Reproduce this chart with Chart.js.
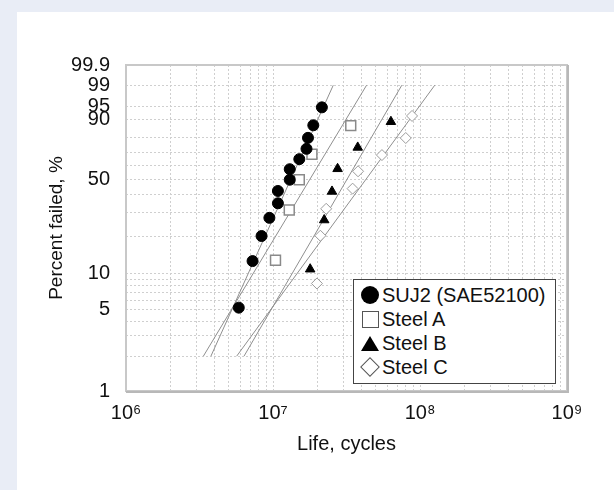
<!DOCTYPE html>
<html>
<head>
<meta charset="utf-8">
<script src="https://cdn.jsdelivr.net/npm/chart.js@4.4.1/dist/chart.umd.min.js"></script>
<style>
  html, body { margin: 0; padding: 0; }
  body { width: 614px; height: 490px; background: #e9edf6; position: relative; overflow: hidden;
         font-family: "Liberation Sans", Arial, Helvetica, sans-serif; }
  #panel { position: absolute; left: 17px; top: 12px; width: 597px; height: 478px; background: #fff; }
  #chart { position: absolute; left: 0; top: 0; }
  #legend { position: absolute; left: 336px; top: 267px; width: 201px; height: 100px;
            border: 1px solid #444; background: #fff; padding-top: 3px; box-sizing: content-box; }
  .row { display: flex; align-items: center; height: 24px; font-size: 20px; color: #111; }
  .sym { width: 20px; margin-left: 6px; margin-right: 2px; display: flex; justify-content: center; align-items: center; }
  .circle { width: 18px; height: 18px; border-radius: 50%; background: #000; }
  .square { width: 15px; height: 15px; border: 1px solid #555; background: #fff; }
  .triangle { width: 0; height: 0; border-left: 9px solid transparent; border-right: 9px solid transparent; border-bottom: 15px solid #000; }
  .diamond { width: 12px; height: 12px; border: 1px solid #555; background: #fff; transform: rotate(45deg); }
</style>
</head>
<body>
<div id="panel">
  <canvas id="chart" width="597" height="478"></canvas>
  <div id="legend">
    <div class="row"><span class="sym"><span class="circle"></span></span>SUJ2 (SAE52100)</div>
    <div class="row"><span class="sym"><span class="square"></span></span>Steel A</div>
    <div class="row"><span class="sym"><span class="triangle"></span></span>Steel B</div>
    <div class="row"><span class="sym"><span class="diamond"></span></span>Steel C</div>
  </div>
</div>
<script>
// Dados (vida em ciclos, % falhado)
const suj2Life = [5.85e6, 7.26e6, 8.36e6, 9.45e6, 1.08e7, 1.08e7, 1.30e7, 1.30e7, 1.51e7, 1.69e7, 1.73e7, 1.88e7, 2.15e7];
const suj2Pct  = [5.2, 12.7, 20.1, 27.6, 35.1, 42.5, 50, 57.5, 64.9, 72.4, 79.9, 87.3, 94.8];

const steelALife = [1.04e7, 1.29e7, 1.51e7, 1.84e7, 3.38e7];
const steelAPct  = [12.9, 31.5, 50, 68.5, 87.1];

const steelBLife = [1.79e7, 2.23e7, 2.52e7, 2.75e7, 3.77e7, 6.34e7];
const steelBPct  = [10.9, 26.6, 42.2, 57.8, 73.4, 89.1];

const steelCLife = [1.99e7, 2.10e7, 2.30e7, 3.48e7, 3.79e7, 5.51e7, 8.0e7, 8.83e7];
const steelCPct  = [8.3, 20.2, 32.1, 44.0, 56.0, 67.9, 79.8, 91.7];

// Retas ajustadas: vida a 2% e a 99%
const fitPct = [2, 99];
const suj2Fit   = [3.78e6, 2.57e7];
const steelAFit = [3.36e6, 4.33e7];
const steelBFit = [6.35e6, 7.52e7];
const steelCFit = [5.66e6, 1.26e8];

// Eixos
const gridPercents  = [1, 2, 3, 4, 5, 6, 7, 8, 9, 10, 20, 30, 40, 50, 60, 70, 80, 90, 95, 99, 99.9];
const labelPercents = [1, 5, 10, 50, 90, 95, 99, 99.9];
const xDecades = [6, 7, 8, 9];
const superscripts = { 6: '\u2076', 7: '\u2077', 8: '\u2078', 9: '\u2079' };

// Escala de Weibull
function weibull(p) {
    return Math.log(-Math.log(1 - p / 100));
}

function toPoints(life, pct) {
    return life.map((v, i) => ({ x: v, y: weibull(pct[i]) }));
}

const fontFamily = '"Liberation Sans", Arial, Helvetica, sans-serif';

// Moldura do gráfico
const framePlugin = {
    id: 'frame',
    beforeDatasetsDraw(chart) {
        const { ctx, chartArea: a } = chart;
        ctx.save();
        ctx.strokeStyle = '#c8c8c8';
        ctx.lineWidth = 2;
        ctx.strokeRect(a.left, a.top, a.right - a.left, a.bottom - a.top);
        ctx.strokeStyle = '#b8b8b8';
        ctx.beginPath();
        ctx.moveTo(a.right + 1, a.top);
        ctx.lineTo(a.right + 1, a.bottom + 1);
        ctx.lineTo(a.left, a.bottom + 1);
        ctx.stroke();
        ctx.restore();
    }
};

function fitDataset(fit) {
    return {
        data: toPoints(fit, fitPct),
        showLine: true,
        borderColor: '#8f8f8f',
        borderWidth: 1,
        pointRadius: 0,
        order: 2
    };
}

const ctx = document.getElementById('chart');
new Chart(ctx, {
    type: 'scatter',
    data: {
        datasets: [
            fitDataset(suj2Fit),
            fitDataset(steelAFit),
            fitDataset(steelBFit),
            fitDataset(steelCFit),
            {
                label: 'SUJ2 (SAE52100)',
                data: toPoints(suj2Life, suj2Pct),
                pointStyle: 'circle',
                pointRadius: 5.5,
                backgroundColor: '#000',
                borderColor: '#000',
                borderWidth: 1,
                order: 1
            },
            {
                label: 'Steel A',
                data: toPoints(steelALife, steelAPct),
                pointStyle: 'rect',
                pointRadius: 7,
                backgroundColor: '#fff',
                borderColor: '#8a8a8a',
                borderWidth: 1.5,
                order: 1
            },
            {
                label: 'Steel B',
                data: toPoints(steelBLife, steelBPct),
                pointStyle: 'triangle',
                pointRadius: 5.5,
                backgroundColor: '#000',
                borderColor: '#000',
                borderWidth: 1,
                order: 1
            },
            {
                label: 'Steel C',
                data: toPoints(steelCLife, steelCPct),
                pointStyle: 'rectRot',
                pointRadius: 5.5,
                backgroundColor: '#fff',
                borderColor: '#9a9a9a',
                borderWidth: 1,
                order: 1
            }
        ]
    },
    options: {
        responsive: false,
        animation: false,
        layout: { padding: { left: 28, top: 53, right: 47, bottom: 34 } },
        plugins: {
            legend: { display: false },
            tooltip: { enabled: false }
        },
        scales: {
            x: {
                type: 'logarithmic',
                min: 1e6,
                max: 1e9,
                afterBuildTicks: scale => {
                    const ticks = [];
                    xDecades.forEach(d => {
                        if (d === 9) {
                            ticks.push({ value: 1e9 });
                            return;
                        }
                        for (let m = 1; m <= 9; m++) ticks.push({ value: m * Math.pow(10, d) });
                    });
                    scale.ticks = ticks;
                },
                afterFit: scale => { scale.height = 65; },
                border: { display: false, dash: [2, 2] },
                grid: { color: '#cfcfcf', lineWidth: 1, drawTicks: false },
                ticks: {
                    autoSkip: false,
                    maxRotation: 0,
                    padding: 10,
                    color: '#111',
                    font: { family: fontFamily, size: 20 },
                    callback: value => {
                        const e = Math.round(Math.log10(value));
                        if (Math.abs(Math.pow(10, e) - value) < 1) return '10' + superscripts[e];
                        return '';
                    }
                },
                title: {
                    display: true,
                    text: 'Life, cycles',
                    color: '#111',
                    padding: 0,
                    font: { family: fontFamily, size: 20 }
                }
            },
            y: {
                type: 'linear',
                min: weibull(1),
                max: weibull(99.9),
                bounds: 'data',
                afterBuildTicks: scale => {
                    scale.ticks = gridPercents.map(p => ({ value: weibull(p) }));
                },
                afterFit: scale => { scale.width = 81; },
                border: { display: false, dash: [2, 2] },
                grid: { color: '#cfcfcf', lineWidth: 1, drawTicks: false },
                ticks: {
                    autoSkip: false,
                    padding: 16,
                    color: '#111',
                    font: { family: fontFamily, size: 20 },
                    callback: (value, index) => {
                        const p = gridPercents[index];
                        return labelPercents.includes(p) ? String(p) : '';
                    }
                },
                title: {
                    display: true,
                    text: 'Percent failed, %',
                    color: '#111',
                    padding: 0,
                    font: { family: fontFamily, size: 19 }
                }
            }
        }
    },
    plugins: [framePlugin]
});
</script>
</body>
</html>
